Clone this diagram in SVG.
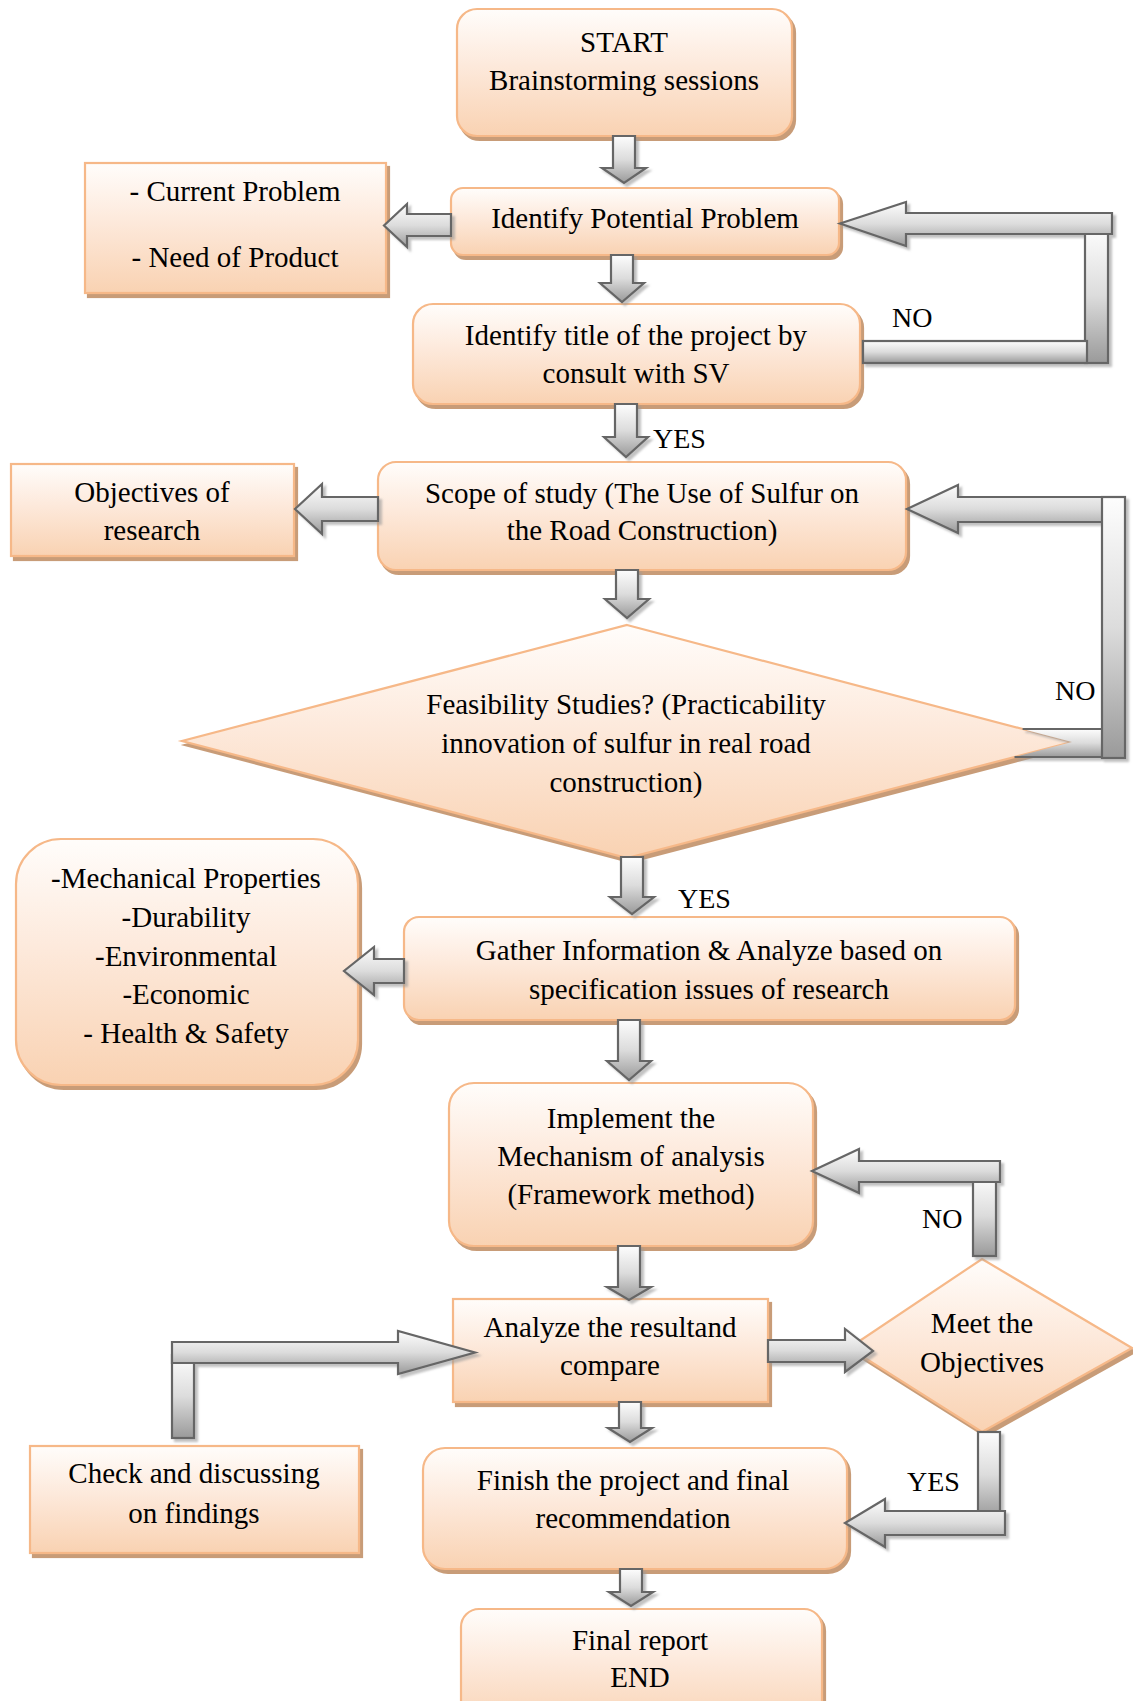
<svg xmlns="http://www.w3.org/2000/svg" width="1133" height="1701" viewBox="0 0 1133 1701">
<defs>
<linearGradient id="ng" x1="0" y1="0" x2="0" y2="1">
<stop offset="0" stop-color="#fffdfb"/>
<stop offset="0.45" stop-color="#fde9db"/>
<stop offset="1" stop-color="#f9d2b2"/>
</linearGradient>
<linearGradient id="ag" x1="0" y1="0" x2="0" y2="1">
<stop offset="0" stop-color="#fdfdfd"/>
<stop offset="0.5" stop-color="#dcdcdc"/>
<stop offset="1" stop-color="#9a9a9a"/>
</linearGradient>
<filter id="ns" x="-5%" y="-5%" width="115%" height="120%">
<feDropShadow dx="3" dy="4" stdDeviation="0.6" flood-color="#c89c78" flood-opacity="1"/>
</filter>
<filter id="as" x="-5%" y="-5%" width="115%" height="120%">
<feDropShadow dx="3" dy="3" stdDeviation="0.8" flood-color="#9a9a9a" flood-opacity="0.6"/>
</filter>
</defs>
<style>
.n{fill:url(#ng);stroke:#f6b888;stroke-width:2.2;filter:url(#ns)}
.a{fill:url(#ag);stroke:#666;stroke-width:2.2;stroke-linejoin:miter}
.t{font-family:"Liberation Serif","Times New Roman",serif;font-size:29px;fill:#000;text-anchor:middle}
.l{font-family:"Liberation Serif","Times New Roman",serif;font-size:28px;fill:#000}
</style>
<rect width="1133" height="1701" fill="#fff"/>

<g id="start"><rect class="n" x="457" y="9" width="335" height="127" rx="20"/>
<text class="t" x="624" y="52">START</text><text class="t" x="624" y="90">Brainstorming sessions</text></g>

<g id="identify"><rect class="n" x="451" y="188" width="388" height="67" rx="12"/>
<text class="t" x="645" y="228">Identify Potential Problem</text></g>

<g id="current"><rect class="n" x="85" y="163" width="301" height="130"/>
<text class="t" x="235" y="201">- Current Problem</text><text class="t" x="235" y="267">- Need of Product</text></g>

<g id="title"><rect class="n" x="413" y="304" width="447" height="100" rx="20"/>
<text class="t" x="636" y="345">Identify title of the project by</text><text class="t" x="636" y="383">consult with SV</text></g>

<g id="scope"><rect class="n" x="378" y="462" width="528" height="108" rx="18"/>
<text class="t" x="642" y="503">Scope of study (The Use of Sulfur on</text><text class="t" x="642" y="540">the Road Construction)</text></g>

<g id="objectives"><rect class="n" x="11" y="464" width="283" height="92"/>
<text class="t" x="152" y="502">Objectives of</text><text class="t" x="152" y="540">research</text></g>

<g id="feasibility"><polygon class="n" points="627,625 1072,742 627,858 182,741"/>
<text class="t" x="626" y="714">Feasibility Studies? (Practicability</text><text class="t" x="626" y="753">innovation of sulfur in real road</text><text class="t" x="626" y="792">construction)</text></g>

<g id="mechanical"><rect class="n" x="16" y="839" width="342" height="246" rx="45"/>
<text class="t" x="186" y="888">-Mechanical Properties</text><text class="t" x="186" y="927">-Durability</text><text class="t" x="186" y="966">-Environmental</text><text class="t" x="186" y="1004">-Economic</text><text class="t" x="186" y="1043">- Health &amp; Safety</text></g>

<g id="gather"><rect class="n" x="404" y="917" width="611" height="103" rx="15"/>
<text class="t" x="709" y="960">Gather Information &amp; Analyze based on</text><text class="t" x="709" y="999">specification issues of research</text></g>

<g id="implement"><rect class="n" x="449" y="1083" width="364" height="163" rx="25"/>
<text class="t" x="631" y="1128">Implement the</text><text class="t" x="631" y="1166">Mechanism of analysis</text><text class="t" x="631" y="1204">(Framework method)</text></g>

<g id="analyze"><rect class="n" x="453" y="1299" width="315" height="103"/>
<text class="t" x="610" y="1337">Analyze the resultand</text><text class="t" x="610" y="1375">compare</text></g>

<g id="meet"><polygon class="n" points="982,1259 1132,1348 982,1432 849,1348"/>
<text class="t" x="982" y="1333">Meet the</text><text class="t" x="982" y="1372">Objectives</text></g>

<g id="check"><rect class="n" x="30" y="1446" width="329" height="107"/>
<text class="t" x="194" y="1483">Check and discussing</text><text class="t" x="194" y="1523">on findings</text></g>

<g id="finish"><rect class="n" x="423" y="1448" width="424" height="121" rx="22"/>
<text class="t" x="633" y="1490">Finish the project and final</text><text class="t" x="633" y="1528">recommendation</text></g>

<g id="final"><rect class="n" x="461" y="1609" width="361" height="120" rx="18"/>
<text class="t" x="640" y="1650">Final report</text><text class="t" x="640" y="1687">END</text></g>

<g id="connectors" filter="url(#as)">
<path class="a" d="M613,136 H635 V168 H646 L624,183 L602,168 H613 Z"/>
<path class="a" d="M611,255 H633 V283 H644 L622,302 L600,283 H611 Z"/>
<path class="a" d="M615,404 H637 V437 H648 L626,457 L604,437 H615 Z"/>
<path class="a" d="M616,570 H638 V599 H649 L627,618 L605,599 H616 Z"/>
<path class="a" d="M621,857 H643 V897 H654 L632,914 L610,897 H621 Z"/>
<path class="a" d="M618,1020 H640 V1061 H651 L629,1080 L607,1061 H618 Z"/>
<path class="a" d="M618,1246 H640 V1287 H651 L629,1300 L607,1287 H618 Z"/>
<path class="a" d="M619,1402 H641 V1428 H652 L630,1442 L608,1428 H619 Z"/>
<path class="a" d="M620,1569 H642 V1592 H653 L631,1606 L609,1592 H620 Z"/>
<path class="a" d="M451,214 H407 V204 L384,225.5 L407,247 V236 H451 Z"/>
<path class="a" d="M378,497 H322 V484 L295,509 L322,534 V521 H378 Z"/>
<path class="a" d="M404,959 H374 V947 L344,971 L374,995 V983 H404 Z"/>
<rect class="a" x="1085" y="228" width="23" height="135"/>
<rect class="a" x="863" y="341" width="224" height="22"/>
<path class="a" d="M1112,213 H906 V202 L840,223.5 L906,246 V234 H1112 Z"/>
<path class="a" d="M1103,497 H958 V485 L907,509 L958,533 V522 H1103 Z"/>
<path class="a" style="stroke:none" d="M1022.6,729 H1102 V757 H1014.5 L1072,742 Z"/>
<path fill="none" stroke="#666" stroke-width="2.2" d="M1022.6,729 H1102 M1102,757 H1014.5"/>
<rect class="a" x="1102" y="497" width="23" height="261"/>
<rect class="a" x="973" y="1175" width="23" height="81"/>
<path class="a" d="M1000,1161 H859 V1149 L812,1171 L859,1193 V1182 H1000 Z"/>
<rect class="a" x="978" y="1432" width="22" height="86"/>
<path class="a" d="M1005,1511 H885 V1499 L845,1523 L885,1547 V1535 H1005 Z"/>
<rect class="a" x="172" y="1355" width="22" height="83"/>
<path class="a" d="M172,1342 H398 V1331 L475,1352.5 L398,1374 V1363 H172 Z"/>
<path class="a" d="M768,1340 H845 V1329 L873,1351 L845,1372 V1362 H768 Z"/>
</g>

<g id="labels">
<text class="l" x="892" y="327">NO</text>
<text class="l" x="653" y="448">YES</text>
<text class="l" x="1055" y="700">NO</text>
<text class="l" x="678" y="908">YES</text>
<text class="l" x="922" y="1228">NO</text>
<text class="l" x="907" y="1491">YES</text>
</g>
</svg>
